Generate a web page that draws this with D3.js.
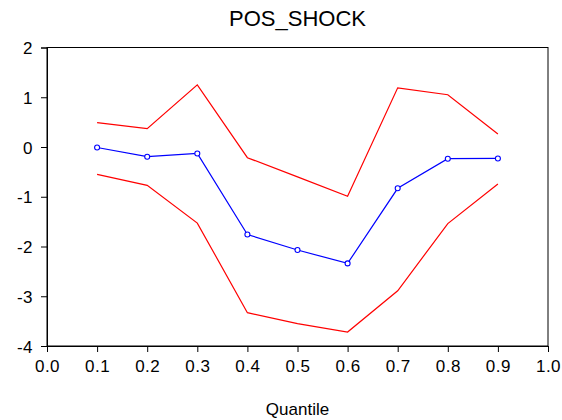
<!DOCTYPE html>
<html>
<head>
<meta charset="utf-8">
<script src="https://cdnjs.cloudflare.com/ajax/libs/d3/7.8.5/d3.min.js"></script>
<style>
  html, body { margin: 0; padding: 0; background: #fff; }
  svg { display: block; }
  text { font-family: "Liberation Sans", Arial, sans-serif; fill: #000; }
</style>
</head>
<body>
<svg id="chart" width="562" height="420"></svg>
<script>
// Quantile coefficients for POS_SHOCK with upper/lower confidence bands
const quantiles = [0.1, 0.2, 0.3, 0.4, 0.5, 0.6, 0.7, 0.8, 0.9];
const estimate  = [-0.01, -0.195, -0.13, -1.76, -2.07, -2.34, -0.83, -0.235, -0.23];
const upperBand = [0.49, 0.37, 1.25, -0.215, -0.6, -0.99, 1.19, 1.05, 0.26];
const lowerBand = [-0.55, -0.77, -1.53, -3.33, -3.55, -3.72, -2.89, -1.54, -0.745];
const xTicks = [0.0, 0.1, 0.2, 0.3, 0.4, 0.5, 0.6, 0.7, 0.8, 0.9, 1.0];
const yTicks = [-4, -3, -2, -1, 0, 1, 2];

const svg = d3.select("#chart");
const plot = { left: 47, right: 548, top: 47.5, bottom: 346 };

const x = d3.scaleLinear().domain([0, 1]).range([plot.left, plot.right]);
const y = d3.scaleLinear().domain([-4, 2]).range([plot.bottom, plot.top]);

// Title
svg.append("text")
  .attr("x", (plot.left + plot.right) / 2)
  .attr("y", 26)
  .attr("text-anchor", "middle")
  .style("font-size", "22px")
  .text("POS_SHOCK");

// Frame around plotting area
svg.append("rect")
  .attr("x", plot.left).attr("y", plot.top)
  .attr("width", plot.right - plot.left).attr("height", plot.bottom - plot.top)
  .attr("fill", "none").attr("stroke", "#000").attr("stroke-width", 1);

// Axes (plain hyphen for negatives)
const yFmt = d => String(d);
const xAxis = svg.append("g")
  .attr("transform", `translate(0,${plot.bottom})`)
  .call(d3.axisBottom(x).tickValues(xTicks).tickFormat(d3.format(".1f")).tickSize(6).tickPadding(8));
const yAxis = svg.append("g")
  .attr("transform", `translate(${plot.left},0)`)
  .call(d3.axisLeft(y).tickValues(yTicks).tickFormat(yFmt).tickSize(6).tickPadding(8));

[xAxis, yAxis].forEach(g => {
  g.select(".domain").attr("stroke", "#000");
  g.selectAll(".tick line").attr("stroke", "#000");
  g.selectAll(".tick text")
    .style("font-size", "17px")
    .style("letter-spacing", "0.5px")
    .style("font-family", "'Liberation Sans', Arial, sans-serif")
    .attr("fill", "#000");
});
yAxis.selectAll(".tick text").attr("dy", "0.36em");

// X axis title
svg.append("text")
  .attr("x", (plot.left + plot.right) / 2)
  .attr("y", 415)
  .attr("text-anchor", "middle")
  .style("font-size", "17px")
  .text("Quantile");

const line = vals => d3.line()
  .x((d, i) => x(quantiles[i]))
  .y(d => y(d))(vals);

// Confidence bands
[upperBand, lowerBand].forEach(b => {
  svg.append("path")
    .attr("d", line(b))
    .attr("fill", "none")
    .attr("stroke", "#ff0000")
    .attr("stroke-width", 1.2);
});

// Point estimates
svg.append("path")
  .attr("d", line(estimate))
  .attr("fill", "none")
  .attr("stroke", "#0000ff")
  .attr("stroke-width", 1.2);

svg.selectAll("circle.pt")
  .data(estimate)
  .enter().append("circle")
  .attr("class", "pt")
  .attr("cx", (d, i) => x(quantiles[i]))
  .attr("cy", d => y(d))
  .attr("r", 2.5)
  .attr("fill", "#fff")
  .attr("stroke", "#0000ff")
  .attr("stroke-width", 1.1);
</script>
</body>
</html>
